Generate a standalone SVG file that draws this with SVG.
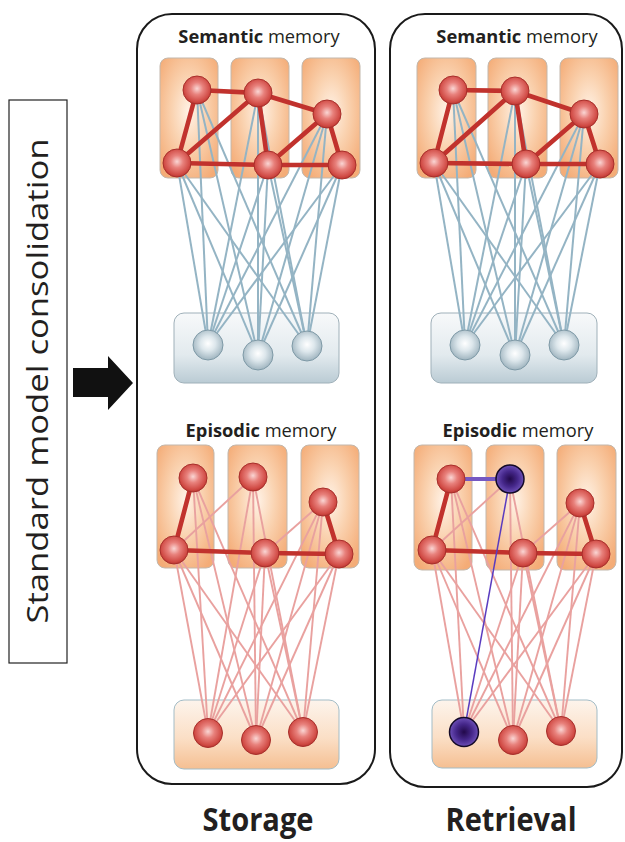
<svg xmlns="http://www.w3.org/2000/svg" width="625" height="842" viewBox="0 0 625 842">
<defs>
<radialGradient id="gBox" cx="50%" cy="45%" r="65%">
<stop offset="0" stop-color="#fff2e6"/>
<stop offset="0.45" stop-color="#fad3b1"/>
<stop offset="1" stop-color="#f4ac77"/>
</radialGradient>
<linearGradient id="gHubGray" x1="0" y1="0" x2="0" y2="1">
<stop offset="0" stop-color="#f7f9fa"/>
<stop offset="0.6" stop-color="#e2eaee"/>
<stop offset="1" stop-color="#bacbd4"/>
</linearGradient>
<linearGradient id="gHubPeach" x1="0" y1="0" x2="0" y2="1">
<stop offset="0" stop-color="#fdf4ec"/>
<stop offset="0.55" stop-color="#fbdfc6"/>
<stop offset="1" stop-color="#f5bf92"/>
</linearGradient>
<radialGradient id="gRed" cx="50%" cy="45%" r="55%">
<stop offset="0" stop-color="#fad6d4"/>
<stop offset="0.4" stop-color="#e8817c"/>
<stop offset="0.85" stop-color="#d04a44"/>
<stop offset="1" stop-color="#b93631"/>
</radialGradient>
<radialGradient id="gGray" cx="50%" cy="45%" r="55%">
<stop offset="0" stop-color="#ffffff"/>
<stop offset="0.45" stop-color="#dde7ec"/>
<stop offset="1" stop-color="#9fb4bf"/>
</radialGradient>
<radialGradient id="gPurple" cx="50%" cy="50%" r="55%">
<stop offset="0" stop-color="#22094a"/>
<stop offset="0.5" stop-color="#45278a"/>
<stop offset="1" stop-color="#7659c2"/>
</radialGradient>
</defs>
<style>
.panel{fill:#fff;stroke:#1a1a1a;stroke-width:2}
.box{fill:url(#gBox);stroke:#c2b7ac;stroke-width:1}
.hubg{fill:url(#gHubGray);stroke:#9fb0b9;stroke-width:1}
.hubp{fill:url(#gHubPeach);stroke:#a3bcc6;stroke-width:1}
.bl{stroke:#94b4c4;stroke-width:2;fill:none}
.pk{stroke:#e9a19f;stroke-width:1.9;fill:none}
.re{stroke:#c1322d;stroke-width:4.6;stroke-linecap:round;fill:none}
.pu{stroke:#7558c2;stroke-width:4;fill:none}
.put{stroke:#5a3cc0;stroke-width:1.5;fill:none}
.nr{fill:url(#gRed);stroke:#a82f2b;stroke-width:1}
.ng{fill:url(#gGray);stroke:#7e99a6;stroke-width:1}
.np{fill:url(#gPurple);stroke:#140a28;stroke-width:1.5}
.t{font-family:"Open Sans","Liberation Sans",sans-serif;fill:#231f20}
.h{font-size:18.3px}
.big{font-size:32px;font-weight:bold}
</style>
<rect width="625" height="842" fill="#fff"/>

<g id="label">
<rect x="9" y="100" width="58" height="563" fill="#fff" stroke="#222" stroke-width="1.2"/>
<text class="t" transform="translate(48,381) rotate(-90)" text-anchor="middle" font-size="30" textLength="485" lengthAdjust="spacingAndGlyphs">Standard model consolidation</text>
</g>
<g id="arrow">
<polygon points="73,368 108,368 108,356 133,383 108,410 108,397 73,397" fill="#111"/>
</g>

<g id="panel-storage"><rect class="panel" x="137" y="14" width="238" height="770" rx="35"/></g>
<g id="panel-retrieval"><rect class="panel" x="390" y="14" width="232" height="773" rx="35"/></g>

<g id="titles">
<text class="t h" x="259" y="43" text-anchor="middle"><tspan font-weight="bold">Semantic</tspan> memory</text>
<text class="t h" x="517" y="43" text-anchor="middle"><tspan font-weight="bold">Semantic</tspan> memory</text>
<text class="t h" x="261" y="437" text-anchor="middle"><tspan font-weight="bold">Episodic</tspan> memory</text>
<text class="t h" x="518" y="437" text-anchor="middle"><tspan font-weight="bold">Episodic</tspan> memory</text>
<text class="t big" x="258" y="831" text-anchor="middle" textLength="111" lengthAdjust="spacingAndGlyphs">Storage</text>
<text class="t big" x="511" y="831" text-anchor="middle" textLength="131" lengthAdjust="spacingAndGlyphs">Retrieval</text>
</g>

<g id="regions">
<g id="s-sem-box1"><rect class="box" x="160" y="58" width="58" height="120" rx="8"/></g>
<g id="s-sem-box2"><rect class="box" x="231" y="58" width="58" height="120" rx="8"/></g>
<g id="s-sem-box3"><rect class="box" x="302" y="58" width="58" height="120" rx="8"/></g>
<g id="s-sem-hub"><rect class="hubg" x="174" y="313" width="165" height="70" rx="10"/></g>
<g id="s-epi-box1"><rect class="box" x="157" y="445" width="57" height="123" rx="8"/></g>
<g id="s-epi-box2"><rect class="box" x="228" y="445" width="59" height="123" rx="8"/></g>
<g id="s-epi-box3"><rect class="box" x="301" y="445" width="58" height="123" rx="8"/></g>
<g id="s-epi-hub"><rect class="hubp" x="174" y="700" width="165" height="69" rx="10"/></g>
<g id="r-sem-box1"><rect class="box" x="417" y="58" width="59" height="120" rx="8"/></g>
<g id="r-sem-box2"><rect class="box" x="488" y="58" width="59" height="120" rx="8"/></g>
<g id="r-sem-box3"><rect class="box" x="560" y="58" width="58" height="120" rx="8"/></g>
<g id="r-sem-hub"><rect class="hubg" x="431" y="313" width="166" height="70" rx="10"/></g>
<g id="r-epi-box1"><rect class="box" x="414" y="445" width="58" height="125" rx="8"/></g>
<g id="r-epi-box2"><rect class="box" x="486" y="445" width="58" height="125" rx="8"/></g>
<g id="r-epi-box3"><rect class="box" x="557" y="445" width="59" height="125" rx="8"/></g>
<g id="r-epi-hub"><rect class="hubp" x="432" y="700" width="165" height="68" rx="10"/></g>
</g>

<g id="connectors">
<line class="bl" x1="197" y1="90" x2="208" y2="345"/><line class="bl" x1="197" y1="90" x2="258" y2="355"/><line class="bl" x1="197" y1="90" x2="307" y2="346"/>
<line class="bl" x1="258" y1="93" x2="208" y2="345"/><line class="bl" x1="258" y1="93" x2="258" y2="355"/><line class="bl" x1="258" y1="93" x2="307" y2="346"/>
<line class="bl" x1="327" y1="114" x2="208" y2="345"/><line class="bl" x1="327" y1="114" x2="258" y2="355"/><line class="bl" x1="327" y1="114" x2="307" y2="346"/>
<line class="bl" x1="177" y1="163" x2="208" y2="345"/><line class="bl" x1="177" y1="163" x2="258" y2="355"/><line class="bl" x1="177" y1="163" x2="307" y2="346"/>
<line class="bl" x1="268" y1="165" x2="208" y2="345"/><line class="bl" x1="268" y1="165" x2="258" y2="355"/><line class="bl" x1="268" y1="165" x2="307" y2="346"/>
<line class="bl" x1="342" y1="165" x2="208" y2="345"/><line class="bl" x1="342" y1="165" x2="258" y2="355"/><line class="bl" x1="342" y1="165" x2="307" y2="346"/>
<line class="re" x1="197" y1="90" x2="258" y2="93"/><line class="re" x1="197" y1="90" x2="177" y2="163"/>
<line class="re" x1="258" y1="93" x2="177" y2="163"/><line class="re" x1="258" y1="93" x2="268" y2="165"/>
<line class="re" x1="258" y1="93" x2="327" y2="114"/><line class="re" x1="327" y1="114" x2="268" y2="165"/>
<line class="re" x1="327" y1="114" x2="342" y2="165"/><line class="re" x1="177" y1="163" x2="268" y2="165"/>
<line class="re" x1="268" y1="165" x2="342" y2="165"/>
<line class="pk" x1="193" y1="478" x2="208" y2="733"/><line class="pk" x1="193" y1="478" x2="256" y2="740"/><line class="pk" x1="193" y1="478" x2="303" y2="732"/>
<line class="pk" x1="253" y1="477" x2="208" y2="733"/><line class="pk" x1="253" y1="477" x2="256" y2="740"/><line class="pk" x1="253" y1="477" x2="303" y2="732"/>
<line class="pk" x1="323" y1="502" x2="208" y2="733"/><line class="pk" x1="323" y1="502" x2="256" y2="740"/><line class="pk" x1="323" y1="502" x2="303" y2="732"/>
<line class="pk" x1="174" y1="550" x2="208" y2="733"/><line class="pk" x1="174" y1="550" x2="256" y2="740"/><line class="pk" x1="174" y1="550" x2="303" y2="732"/>
<line class="pk" x1="265" y1="553" x2="208" y2="733"/><line class="pk" x1="265" y1="553" x2="256" y2="740"/><line class="pk" x1="265" y1="553" x2="303" y2="732"/>
<line class="pk" x1="339" y1="554" x2="208" y2="733"/><line class="pk" x1="339" y1="554" x2="256" y2="740"/><line class="pk" x1="339" y1="554" x2="303" y2="732"/>
<line class="pk" x1="174" y1="550" x2="253" y2="477"/><line class="pk" x1="265" y1="553" x2="323" y2="502"/>
<line class="re" x1="193" y1="478" x2="174" y2="550"/><line class="re" x1="174" y1="550" x2="265" y2="553"/>
<line class="re" x1="265" y1="553" x2="339" y2="554"/><line class="re" x1="323" y1="502" x2="339" y2="554"/>
<line class="bl" x1="453" y1="90" x2="465" y2="345"/><line class="bl" x1="453" y1="90" x2="515" y2="355"/><line class="bl" x1="453" y1="90" x2="564" y2="345"/>
<line class="bl" x1="515" y1="91" x2="465" y2="345"/><line class="bl" x1="515" y1="91" x2="515" y2="355"/><line class="bl" x1="515" y1="91" x2="564" y2="345"/>
<line class="bl" x1="584" y1="114" x2="465" y2="345"/><line class="bl" x1="584" y1="114" x2="515" y2="355"/><line class="bl" x1="584" y1="114" x2="564" y2="345"/>
<line class="bl" x1="434" y1="163" x2="465" y2="345"/><line class="bl" x1="434" y1="163" x2="515" y2="355"/><line class="bl" x1="434" y1="163" x2="564" y2="345"/>
<line class="bl" x1="526" y1="164" x2="465" y2="345"/><line class="bl" x1="526" y1="164" x2="515" y2="355"/><line class="bl" x1="526" y1="164" x2="564" y2="345"/>
<line class="bl" x1="600" y1="164" x2="465" y2="345"/><line class="bl" x1="600" y1="164" x2="515" y2="355"/><line class="bl" x1="600" y1="164" x2="564" y2="345"/>
<line class="re" x1="453" y1="90" x2="515" y2="91"/><line class="re" x1="453" y1="90" x2="434" y2="163"/>
<line class="re" x1="515" y1="91" x2="434" y2="163"/><line class="re" x1="515" y1="91" x2="526" y2="164"/>
<line class="re" x1="515" y1="91" x2="584" y2="114"/><line class="re" x1="584" y1="114" x2="526" y2="164"/>
<line class="re" x1="584" y1="114" x2="600" y2="164"/><line class="re" x1="434" y1="163" x2="526" y2="164"/>
<line class="re" x1="526" y1="164" x2="600" y2="164"/>
<line class="pk" x1="451" y1="479" x2="464" y2="732"/><line class="pk" x1="451" y1="479" x2="513" y2="740"/><line class="pk" x1="451" y1="479" x2="561" y2="731"/>
<line class="pk" x1="510" y1="479" x2="513" y2="740"/><line class="pk" x1="510" y1="479" x2="561" y2="731"/>
<line class="pk" x1="580" y1="503" x2="464" y2="732"/><line class="pk" x1="580" y1="503" x2="513" y2="740"/><line class="pk" x1="580" y1="503" x2="561" y2="731"/>
<line class="pk" x1="432" y1="550" x2="464" y2="732"/><line class="pk" x1="432" y1="550" x2="513" y2="740"/><line class="pk" x1="432" y1="550" x2="561" y2="731"/>
<line class="pk" x1="523" y1="553" x2="464" y2="732"/><line class="pk" x1="523" y1="553" x2="513" y2="740"/><line class="pk" x1="523" y1="553" x2="561" y2="731"/>
<line class="pk" x1="596" y1="554" x2="464" y2="732"/><line class="pk" x1="596" y1="554" x2="513" y2="740"/><line class="pk" x1="596" y1="554" x2="561" y2="731"/>
<line class="pk" x1="432" y1="550" x2="510" y2="479"/><line class="pk" x1="523" y1="553" x2="580" y2="503"/>
<line class="re" x1="451" y1="479" x2="432" y2="550"/><line class="re" x1="432" y1="550" x2="523" y2="553"/>
<line class="re" x1="523" y1="553" x2="596" y2="554"/><line class="re" x1="580" y1="503" x2="596" y2="554"/>
<line class="pu" x1="451" y1="479" x2="510" y2="479"/>
<line class="put" x1="510" y1="479" x2="464" y2="732"/>
</g>

<g id="nodes">
<g id="s-sem-a"><circle class="nr" cx="197" cy="90" r="14"/></g>
<g id="s-sem-b"><circle class="nr" cx="258" cy="93" r="14"/></g>
<g id="s-sem-c"><circle class="nr" cx="327" cy="114" r="14"/></g>
<g id="s-sem-d"><circle class="nr" cx="177" cy="163" r="14"/></g>
<g id="s-sem-e"><circle class="nr" cx="268" cy="165" r="14"/></g>
<g id="s-sem-f"><circle class="nr" cx="342" cy="165" r="14"/></g>
<g id="s-sem-g"><circle class="ng" cx="208" cy="345" r="15"/></g>
<g id="s-sem-h"><circle class="ng" cx="258" cy="355" r="15"/></g>
<g id="s-sem-i"><circle class="ng" cx="307" cy="346" r="15"/></g>
<g id="s-epi-a"><circle class="nr" cx="193" cy="478" r="14"/></g>
<g id="s-epi-b"><circle class="nr" cx="253" cy="477" r="14"/></g>
<g id="s-epi-c"><circle class="nr" cx="323" cy="502" r="14"/></g>
<g id="s-epi-d"><circle class="nr" cx="174" cy="550" r="14"/></g>
<g id="s-epi-e"><circle class="nr" cx="265" cy="553" r="14"/></g>
<g id="s-epi-f"><circle class="nr" cx="339" cy="554" r="14"/></g>
<g id="s-epi-g"><circle class="nr" cx="208" cy="733" r="14.5"/></g>
<g id="s-epi-h"><circle class="nr" cx="256" cy="740" r="14.5"/></g>
<g id="s-epi-i"><circle class="nr" cx="303" cy="732" r="14.5"/></g>
<g id="r-sem-a"><circle class="nr" cx="453" cy="90" r="14"/></g>
<g id="r-sem-b"><circle class="nr" cx="515" cy="91" r="14"/></g>
<g id="r-sem-c"><circle class="nr" cx="584" cy="114" r="14"/></g>
<g id="r-sem-d"><circle class="nr" cx="434" cy="163" r="14"/></g>
<g id="r-sem-e"><circle class="nr" cx="526" cy="164" r="14"/></g>
<g id="r-sem-f"><circle class="nr" cx="600" cy="164" r="14"/></g>
<g id="r-sem-g"><circle class="ng" cx="465" cy="345" r="15"/></g>
<g id="r-sem-h"><circle class="ng" cx="515" cy="355" r="15"/></g>
<g id="r-sem-i"><circle class="ng" cx="564" cy="345" r="15"/></g>
<g id="r-epi-a"><circle class="nr" cx="451" cy="479" r="14"/></g>
<g id="r-epi-b"><circle class="np" cx="510" cy="479" r="14"/></g>
<g id="r-epi-c"><circle class="nr" cx="580" cy="503" r="14"/></g>
<g id="r-epi-d"><circle class="nr" cx="432" cy="550" r="14"/></g>
<g id="r-epi-e"><circle class="nr" cx="523" cy="553" r="14"/></g>
<g id="r-epi-f"><circle class="nr" cx="596" cy="554" r="14"/></g>
<g id="r-epi-g"><circle class="np" cx="464" cy="732" r="14.5"/></g>
<g id="r-epi-h"><circle class="nr" cx="513" cy="740" r="14.5"/></g>
<g id="r-epi-i"><circle class="nr" cx="561" cy="731" r="14.5"/></g>
</g>
</svg>
